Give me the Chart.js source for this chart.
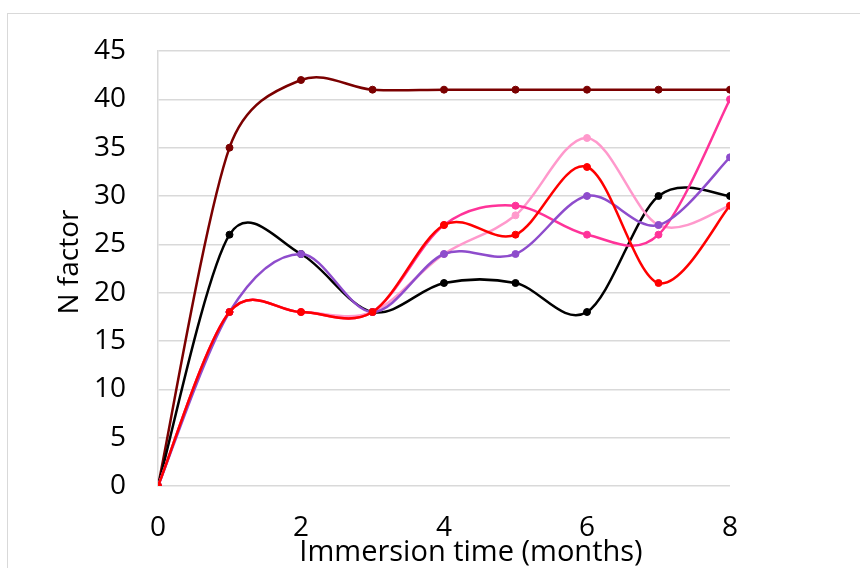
<!DOCTYPE html>
<html>
<head>
<meta charset="utf-8">
<script src="https://cdn.jsdelivr.net/npm/chart.js@4.4.1/dist/chart.umd.min.js"></script>
<style>
  html, body { margin: 0; padding: 0; background: #fff; overflow: hidden; }
  #frame { position: absolute; left: 7px; top: 13px; width: 900px; height: 600px; border: 1px solid #d9d9d9; }
  #wrap { position: absolute; left: 0; top: 0; width: 860px; height: 568px; }
</style>
</head>
<body>
<div id="frame"></div>
<div id="wrap"><canvas id="chart"></canvas></div>
<script>
// Immersion time in months
const months = [0, 1, 2, 3, 4, 5, 6, 7, 8];

// N factor per series
const maroonVals = [0, 35, 42, 41, 41, 41, 41, 41, 41];
const blackVals  = [0, 26, 24, 18, 21, 21, 18, 30, 30];
const purpleVals = [0, 18, 24, 18, 24, 24, 30, 27, 34];
const lightPinkVals = [0, 18, 18, 18, 24, 28, 36, 27, 29];
const hotPinkVals = [0, 18, 18, 18, 27, 29, 26, 26, 40];
const redVals    = [0, 18, 18, 18, 27, 26, 33, 21, 29];

const yTicks = [0, 5, 10, 15, 20, 25, 30, 35, 40, 45];
const xTicks = [0, 2, 4, 6, 8];

const xTitle = 'Immersion time (months)';
const yTitle = 'N factor';

const toPoints = vals => vals.map((v, i) => ({ x: months[i], y: v }));

// first dataset ends up on top
const seriesList = [
    { name: 'red', vals: redVals, color: '#ff0000' },
    { name: 'purple', vals: purpleVals, color: '#8e4ccc' },
    { name: 'hot pink', vals: hotPinkVals, color: '#ff3399' },
    { name: 'light pink', vals: lightPinkVals, color: '#ff99cc' },
    { name: 'black', vals: blackVals, color: '#000000' },
    { name: 'maroon', vals: maroonVals, color: '#7b0000' }
];

const font = 'Open Sans';

// Office-style smoothing: arms are 1/6 of the neighbour chord,
// but never longer than half of the segment they lead into
const officeSmooth = {
    id: 'officeSmooth',
    beforeDatasetsDraw(chart) {
        chart.getSortedVisibleDatasetMetas().forEach(meta => {
            const pts = meta.data;
            const n = pts.length;
            pts.forEach((p, i) => {
                const prev = pts[Math.max(i - 1, 0)];
                const next = pts[Math.min(i + 1, n - 1)];
                const dx = (next.x - prev.x) / 6;
                const dy = (next.y - prev.y) / 6;
                const arm = Math.hypot(dx, dy) || 1;
                const half1 = Math.hypot(p.x - prev.x, p.y - prev.y) / 2;
                const half2 = Math.hypot(next.x - p.x, next.y - p.y) / 2;
                const k1 = Math.min(1, half1 / arm);
                const k2 = Math.min(1, half2 / arm);
                p.cp1x = p.x - dx * k1; p.cp1y = p.y - dy * k1;
                p.cp2x = p.x + dx * k2; p.cp2y = p.y + dy * k2;
            });
            meta.dataset._pointsUpdated = true;
            meta.dataset._path = undefined;
        });
    }
};

// axis titles placed where the original has them
const axisTitles = {
    id: 'axisTitles',
    afterDraw(chart) {
        const ctx = chart.ctx;
        ctx.save();
        ctx.fillStyle = '#000';
        ctx.font = '29px "' + font + '"';
        ctx.textAlign = 'center';
        ctx.textBaseline = 'middle';
        ctx.fillText(xTitle, 471, 553);
        ctx.translate(70, 262);
        ctx.rotate(-Math.PI / 2);
        ctx.font = '28px "' + font + '"';
        ctx.fillText(yTitle, 0, 0);
        ctx.restore();
    }
};

new Chart(document.getElementById('chart'), {
    type: 'line',
    data: {
        datasets: seriesList.map(s => ({
            label: s.name,
            data: toPoints(s.vals),
            borderColor: s.color,
            backgroundColor: s.color,
            pointBackgroundColor: s.color,
            pointBorderColor: s.color,
            borderWidth: 2.5,
            pointRadius: 3.5,
            pointBorderWidth: 1,
            tension: 0.4,
            fill: false
        }))
    },
    plugins: [officeSmooth, axisTitles],
    options: {
        responsive: true,
        maintainAspectRatio: false,
        animation: false,
        layout: { padding: { left: 0, top: 51, right: 130, bottom: 0 } },
        plugins: {
            legend: { display: false },
            tooltip: { enabled: false }
        },
        scales: {
            x: {
                type: 'linear',
                min: 0,
                max: 8,
                afterBuildTicks: scale => { scale.ticks = xTicks.map(v => ({ value: v })); },
                afterFit: scale => { scale.height = 82; },
                grid: { display: false, drawTicks: false },
                border: { display: false },
                ticks: {
                    padding: 25,
                    color: '#000',
                    font: { family: font, size: 28 }
                }
            },
            y: {
                min: 0,
                max: 45,
                afterBuildTicks: scale => { scale.ticks = yTicks.map(v => ({ value: v })); },
                afterFit: scale => { scale.width = 158; },
                grid: { color: '#d9d9d9', lineWidth: 1.5, drawTicks: false },
                border: { display: true, color: '#d9d9d9', width: 1.5 },
                ticks: {
                    padding: 32,
                    color: '#000',
                    font: { family: font, size: 28 }
                }
            }
        }
    }
});
</script>
</body>
</html>
